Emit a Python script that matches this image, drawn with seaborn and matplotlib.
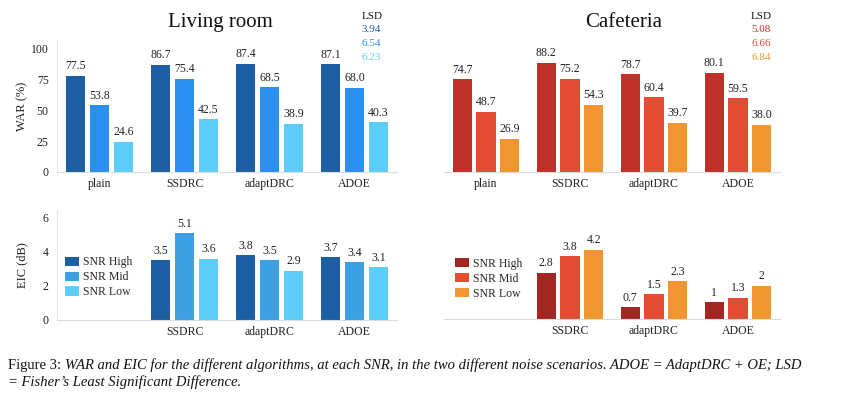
import numpy as np
import pandas as pd
import seaborn as sns
import matplotlib.pyplot as plt
from matplotlib.patches import Patch

# === data ===
algorithms = ["plain", "SSDRC", "adaptDRC", "ADOE"]
snr_levels = ["SNR High", "SNR Mid", "SNR Low"]

# WAR (%) per SNR level, one value per algorithm
war_living_high = [77.5, 86.7, 87.4, 87.1]
war_living_mid = [53.8, 75.4, 68.5, 68.0]
war_living_low = [24.6, 42.5, 38.9, 40.3]
war_cafe_high = [74.7, 88.2, 78.7, 80.1]
war_cafe_mid = [48.7, 75.2, 60.4, 59.5]
war_cafe_low = [26.9, 54.3, 39.7, 38.0]

# EIC (dB), no value for "plain"
eic_living_high = [np.nan, 3.5, 3.8, 3.7]
eic_living_mid = [np.nan, 5.1, 3.5, 3.4]
eic_living_low = [np.nan, 3.6, 2.9, 3.1]
eic_cafe_high = [np.nan, 2.8, 0.7, 1.0]
eic_cafe_mid = [np.nan, 3.8, 1.5, 1.3]
eic_cafe_low = [np.nan, 4.2, 2.3, 2.0]

lsd_living = ["3.94", "6.54", "6.23"]
lsd_cafe = ["5.08", "6.66", "6.84"]

# colours
blues_top = ["#1d5fa2", "#2b8ff0", "#5ccdf8"]
blues_bot = ["#1d5fa2", "#3da0e2", "#5ccdf8"]
reds_top = ["#c0302a", "#e14c32", "#f0952f"]
reds_bot = ["#a22722", "#e14c32", "#f0952f"]

sns.set_theme(style="white")
plt.rcParams["font.family"] = ["Liberation Serif", "DejaVu Serif"]

fig = plt.figure(figsize=(8.64, 3.95), dpi=100)
W, H = 864, 395


def add_ax(x0, x1, ytop, ybot):
    return fig.add_axes([x0 / W, 1 - ybot / H, (x1 - x0) / W, (ybot - ytop) / H])


ax_lt = add_ax(57, 397, 40, 172)
ax_rt = add_ax(444, 780, 40, 172)
ax_lb = add_ax(57, 397, 210, 320)
ax_rb = add_ax(444, 780, 210, 319)


def draw(ax, series, colors, fmt, ymax, show_y, ylabel=None):
    df = pd.DataFrame({
        "algorithm": np.tile(algorithms, len(snr_levels)),
        "snr": np.repeat(snr_levels, len(algorithms)),
        "value": np.concatenate(series),
    }).dropna()
    sns.barplot(data=df, x="algorithm", y="value", hue="snr",
                order=algorithms, hue_order=snr_levels,
                palette=dict(zip(snr_levels, colors)), saturation=1,
                width=0.85, gap=0.2, linewidth=0, errorbar=None,
                legend=False, ax=ax)
    for c in ax.containers:
        ax.bar_label(c, fmt=fmt, padding=2.5, fontsize=8.5, color="#222222")
    ax.set_ylim(0, ymax)
    ax.set_xlim(-0.5, 3.5)
    ax.set_xlabel("")
    ax.tick_params(axis="both", length=0, labelsize=8.5, colors="#222222")
    ax.tick_params(axis="x", pad=4)
    ax.tick_params(axis="y", pad=6)
    for s in ["top", "right"]:
        ax.spines[s].set_visible(False)
    ax.spines["bottom"].set_color("#dcdcdc")
    ax.spines["bottom"].set_linewidth(0.8)
    if show_y:
        ax.spines["left"].set_color("#e4e4e4")
        ax.spines["left"].set_linewidth(0.8)
        ax.set_ylabel(ylabel, fontsize=9, color="#222222")
        ax.yaxis.set_label_coords(-0.085, 0.5)
    else:
        ax.spines["left"].set_visible(False)
        ax.set_yticks([])
        ax.set_ylabel("")


draw(ax_lt, [war_living_high, war_living_mid, war_living_low], blues_top,
     "{:.1f}", 106.5, True, "WAR (%)")
ax_lt.set_yticks([0, 25, 50, 75, 100])
draw(ax_rt, [war_cafe_high, war_cafe_mid, war_cafe_low], reds_top,
     "{:.1f}", 106.5, False)
draw(ax_lb, [eic_living_high, eic_living_mid, eic_living_low], blues_bot,
     "{:g}", 6.47, True, "EIC (dB)")
ax_lb.set_yticks([0, 2, 4, 6])
draw(ax_rb, [eic_cafe_high, eic_cafe_mid, eic_cafe_low], reds_bot,
     "{:g}", 6.6, False)

for ax in (ax_lb, ax_rb):
    ax.set_xticks(range(len(algorithms)))
    ax.set_xticklabels([""] + algorithms[1:])

# legends in the empty "plain" slot
for ax, cols, anchor in ((ax_lb, blues_bot, (0.024, 0.58)),
                         (ax_rb, reds_bot, (0.033, 0.56))):
    handles = [Patch(facecolor=c, edgecolor="none") for c in cols]
    ax.legend(handles, snr_levels, loc="upper left", bbox_to_anchor=anchor,
              frameon=False, fontsize=8.5, handlelength=1.2, handleheight=0.8,
              handletextpad=0.3, labelspacing=0.25, borderpad=0,
              borderaxespad=0)

# titles
fig.text(220 / W, 1 - 27 / H, "Living room", fontsize=15, ha="center",
         va="baseline", color="#111111")
fig.text(624 / W, 1 - 27 / H, "Cafeteria", fontsize=15, ha="center",
         va="baseline", color="#111111")

# LSD columns
for x0, vals, cols in ((362, lsd_living, blues_top), (751, lsd_cafe, reds_top)):
    fig.text(x0 / W, 1 - 19 / H, "LSD", fontsize=8, va="baseline",
             color="#111111")
    for i, (v, c) in enumerate(zip(vals, cols)):
        fig.text(x0 / W, 1 - (32.5 + 13.5 * i) / H, v, fontsize=8,
                 va="baseline", color=c)

# caption
t1 = fig.text(8 / W, 1 - 369 / H, "Figure 3: ", fontsize=10.5, va="baseline",
              color="#111111")
ax_lt.annotate("WAR and EIC for the different algorithms, at each SNR, in the "
               "two different noise scenarios. ADOE = AdaptDRC + OE; LSD",
               xy=(1, 0), xycoords=t1, va="bottom", fontsize=10.5,
               style="italic", color="#111111")
fig.text(8 / W, 1 - 386 / H, "= Fisher\u2019s Least Significant Difference.",
         fontsize=10.5, style="italic", va="baseline", color="#111111")

fig.savefig("out.png", dpi=100)
